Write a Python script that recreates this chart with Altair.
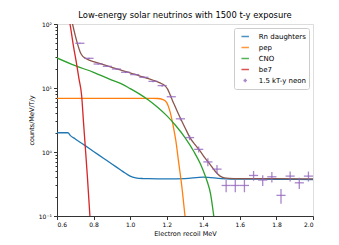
import altair as alt
import pandas as pd

# ---------------- data ----------------
rn_x = [0.6, 0.66, 0.672, 0.70, 0.75, 0.80, 0.85, 0.90, 0.95, 0.97, 1.00, 1.03, 1.07, 1.1, 1.2, 1.3, 1.4, 1.5, 1.6, 1.8, 2.0]
rn_y = [2.0, 2.0, 1.82, 1.60, 1.28, 1.02, 0.815, 0.65, 0.52, 0.475, 0.42, 0.395, 0.385, 0.383, 0.38, 0.385, 0.405, 0.385, 0.377, 0.375, 0.372]

pep_x = [0.6, 1.0, 1.15, 1.18, 1.20, 1.215, 1.235, 1.25, 1.265, 1.282, 1.30, 1.32]
pep_y = [6.9, 6.9, 6.85, 6.6, 5.9, 4.6, 2.6, 1.5, 0.7, 0.3, 0.1, 0.03]

cno_x = [0.6, 0.7, 0.8, 0.9, 0.95, 1.0, 1.05, 1.1, 1.15, 1.2, 1.25, 1.3, 1.35, 1.38, 1.4, 1.42, 1.44, 1.455, 1.47]
cno_y = [29.5, 22.3, 17.6, 13.3, 11.7, 9.8, 8.1, 6.5, 5.0, 3.7, 2.57, 1.68, 1.0, 0.69, 0.51, 0.355, 0.22, 0.112, 0.05]

be7_x = [0.655, 0.671, 0.69, 0.708, 0.72, 0.735, 0.745, 0.753, 0.766, 0.78, 0.79]
be7_y = [160, 100, 45, 23, 14, 7.5, 2.9, 1.4, 0.42, 0.1, 0.04]

sum_x = [0.672, 0.685, 0.70, 0.715, 0.726, 0.74, 0.753, 0.78, 0.80, 0.85, 0.90, 0.95, 1.0, 1.05, 1.09, 1.13,
         1.163, 1.19, 1.205, 1.218, 1.24, 1.273, 1.30, 1.327, 1.355, 1.382, 1.41, 1.437, 1.465, 1.492, 1.515,
         1.54, 1.6, 1.8, 2.0]
sum_y = [150, 100, 66, 46, 37, 31.5, 29.4, 27, 25.8, 23.3, 21, 19, 17.3, 15.5, 14.3, 13.1,
         12.0, 10.9, 9.6, 7.9, 5.6, 3.45, 2.4, 1.68, 1.3, 1.04, 0.8, 0.64, 0.5, 0.42, 0.395,
         0.388, 0.385, 0.385, 0.38]

neon_x = [0.725, 0.775, 0.825, 0.875, 0.925, 0.975, 1.025, 1.075, 1.125, 1.175, 1.225, 1.275, 1.325,
          1.375, 1.425, 1.475, 1.525, 1.575, 1.625, 1.675, 1.725, 1.775, 1.825, 1.875, 1.925, 1.975]
neon_y = [50, 29.1, 23.7, 21.8, 19.8, 17.6, 16.2, 14.7, 12.7, 10.9, 7.3, 3.3, 1.68,
          1.10, 0.70, 0.54, 0.30, 0.30, 0.30, 0.43, 0.365, 0.41, 0.21, 0.42, 0.33, 0.42]
neon_err = [0.8, 0.6, 0.55, 0.55, 0.5, 0.5, 0.45, 0.45, 0.4, 0.4, 0.3, 0.2, 0.15,
            0.12, 0.1, 0.085, 0.065, 0.065, 0.065, 0.075, 0.07, 0.075, 0.055, 0.075, 0.065, 0.075]
bin_half = 0.025

comp_names = ["Rn daughters", "pep", "CNO", "be7"]
data_name = "1.5 kT-y neon"
palette = ["#1f77b4", "#ff7f0e", "#2ca02c", "#d62728", "#9467bd"]
line_key = "M-0.833,0H0.833"
cross_key = "M-0.39,0H0.39M0,-0.39V0.39"
legend_shapes = [line_key, line_key, line_key, line_key, cross_key]
sum_color = "#8c564b"

x_ticks = [0.6, 0.8, 1.0, 1.2, 1.4, 1.6, 1.8, 2.0]
y_major = [0.1, 1, 10, 100]
y_minor = [m * d for d in [0.1, 1, 10] for m in range(2, 10)]

# ---------------- tables ----------------
rows = []
for name, xs, ys in zip(comp_names, [rn_x, pep_x, cno_x, be7_x], [rn_y, pep_y, cno_y, be7_y]):
    for i, (x, y) in enumerate(zip(xs, ys)):
        rows.append({"series": name, "E": x, "rate": y, "ord": i})
curves = pd.DataFrame(rows)
total = pd.DataFrame({"E": sum_x, "rate": sum_y, "ord": list(range(len(sum_x)))})
neon = pd.DataFrame({
    "series": data_name,
    "E": neon_x,
    "rate": neon_y,
    "lo_x": [x - bin_half for x in neon_x],
    "hi_x": [x + bin_half for x in neon_x],
    "lo_y": [y - e for y, e in zip(neon_y, neon_err)],
    "hi_y": [y + e for y, e in zip(neon_y, neon_err)],
})
names = pd.DataFrame({"series": comp_names + [data_name], "E": 1.0, "rate": 1.0})

FONT = "DejaVu Sans"
xscale = alt.Scale(domain=[0.6, 2.0], nice=False, zero=False)
yscale = alt.Scale(type="log", domain=[0.1, 100], nice=False)
cscale = alt.Scale(domain=comp_names + [data_name], range=palette)
sscale = alt.Scale(domain=comp_names + [data_name], range=legend_shapes)

xaxis = alt.Axis(values=x_ticks, format=".1f", title="Electron recoil MeV", grid=False,
                 tickSize=3.5, labelFontSize=6, titleFontSize=6.5, labelFont=FONT, titleFont=FONT,
                 titleFontWeight="normal", labelColor="black", titleColor="black",
                 domainColor="#333", tickColor="#333", labelPadding=2, titlePadding=3)
label_expr = ("datum.value == 100 ? '10²' : datum.value == 10 ? '10¹' : "
              "datum.value == 1 ? '10⁰' : datum.value == 0.1 ? '10⁻¹' : ''")
yaxis = alt.Axis(values=y_major + y_minor, labelExpr=label_expr, labelOverlap=False,
                 title="counts/MeV/T/y", grid=False,
                 tickSize={"condition": {"test": "indexof([0.1, 1, 10, 100], datum.value) >= 0", "value": 3.5},
                           "value": 2},
                 labelFontSize=6, titleFontSize=6.5, labelFont=FONT, titleFont=FONT,
                 titleFontWeight="normal", labelColor="black", titleColor="black",
                 domainColor="#333", tickColor="#333", labelPadding=2, titlePadding=4)

legend = alt.Legend(
    title=None, orient="none", legendX=177, legendY=4,
    fillColor="white", strokeColor="#cccccc", cornerRadius=2, padding=3,
    labelFont=FONT, labelFontSize=7, labelColor="black", rowPadding=2,
    symbolStrokeWidth=1.5, symbolSize=81, symbolOffset=2.7, labelOffset=8,
)
color = alt.Color("series:N", scale=cscale, legend=legend)

X = alt.X("E:Q", scale=xscale, axis=xaxis)
Y = alt.Y("rate:Q", scale=yscale, axis=yaxis)

lines = alt.Chart(curves).mark_line(strokeWidth=1.3, clip=True, interpolate="monotone").encode(
    x=X, y=Y, color=color, order="ord:Q",
)
sumline = alt.Chart(total).mark_line(strokeWidth=1.3, clip=True, interpolate="monotone", color=sum_color).encode(
    x=X, y=Y, order="ord:Q",
)
hbars = alt.Chart(neon).mark_rule(strokeWidth=1.3, opacity=0.8, clip=True).encode(
    x=alt.X("lo_x:Q", scale=xscale, axis=xaxis),
    x2="hi_x:Q",
    y=Y,
    color=color,
)
vbars = alt.Chart(neon).mark_rule(strokeWidth=1.3, opacity=0.8, clip=True).encode(
    x=X,
    y=alt.Y("lo_y:Q", scale=yscale, axis=yaxis),
    y2="hi_y:Q",
    color=color,
)
# legend-only layer (no rows drawn): gives each legend entry its symbol shape
keys = alt.Chart(names).mark_point(filled=False, strokeWidth=1.5).encode(
    x=X, y=Y, color=color,
    shape=alt.Shape("series:N", scale=sscale, legend=legend),
).transform_filter("false")

chart = alt.layer(lines, sumline, hbars, vbars, keys).properties(
    width=256, height=192,
    title=alt.Title("Low-energy solar neutrinos with 1500 t-y exposure", fontSize=8.4,
                    font=FONT, fontWeight="normal", color="black", anchor="middle", offset=2),
    autosize=alt.AutoSizeParams(type="none"),
    padding={"left": 49, "top": 16, "right": 18, "bottom": 28},
).configure_view(stroke="#333", strokeWidth=1).configure(background="white")

chart.save("out.html", embed_options={"renderer": "svg", "actions": False})
